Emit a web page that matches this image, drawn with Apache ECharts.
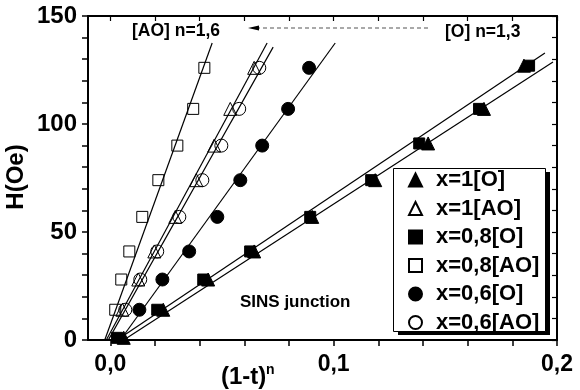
<!DOCTYPE html>
<html><head><meta charset="utf-8">
<script src="https://cdn.jsdelivr.net/npm/echarts@6/dist/echarts.min.js"></script>
<style>html,body{margin:0;padding:0;background:#fff}#c{width:580px;height:390px}</style>
</head><body><div id="c"></div>
<script>
// ---- data ----
const seriesNames = ['x=1[O]', 'x=1[AO]', 'x=0,8[O]', 'x=0,8[AO]', 'x=0,6[O]', 'x=0,6[AO]'];
const hO   = [1, 14, 28, 41, 57, 74, 91, 107, 127];   // H (Oe) for [O] triangle/square series
const hAO  = [14, 28, 41, 57, 74, 90, 107, 126];      // H (Oe) for the other series
const x1O   = [0.006, 0.0237, 0.0438, 0.0644, 0.0904, 0.1186, 0.1423, 0.1673, 0.1852];
const x08O  = [0.003, 0.0210, 0.0416, 0.0626, 0.0895, 0.1168, 0.1383, 0.1651, 0.1875];
const x1AO  = [0.0054, 0.0125, 0.0197, 0.0291, 0.0385, 0.0465, 0.0537, 0.0644];
const x08AO = [0.0022, 0.0049, 0.0085, 0.0143, 0.0215, 0.0300, 0.0371, 0.0421];
const x06O  = [0.0130, 0.0233, 0.0353, 0.0479, 0.0582, 0.0680, 0.0796, 0.0890];
const x06AO = [0.0067, 0.0134, 0.0210, 0.0309, 0.0412, 0.0497, 0.0577, 0.0667];
// fitted straight lines: [x, H] start and end points
const fit1O   = [[0.006, 0], [0.1982, 128.7]];
const fit08O  = [[0.003, 0], [0.1946, 132.9]];
const fit1AO  = [[-0.0018, 0], [0.0702, 137.5]];
const fit08AO = [[-0.0025, 0], [0.0456, 137.5]];
const fit06O  = [[0.0045, 0], [0.1007, 137.5]];
const fit06AO = [[-0.0009, 0], [0.0729, 135.6]];
const xTicks = [0, 0.02, 0.04, 0.06, 0.08, 0.1, 0.12, 0.14, 0.16, 0.18, 0.2];
const xTickLabels = [0, 0.1, 0.2];
const yTicks = [0, 10, 20, 30, 40, 50, 60, 70, 80, 90, 100, 110, 120, 130, 140, 150];
const yTickLabels = [0, 50, 100, 150];

const FONT = 'Liberation Sans, Arial, sans-serif';
const pair = (xs, hs) => xs.map((x, i) => [x, hs[i]]);
const filled = {color: '#000', borderColor: '#000', borderWidth: 1, opacity: 1};
const hollow = {color: 'rgba(255,255,255,0)', borderColor: '#000', borderWidth: 1, opacity: 1};
function sc(name, data, symbol, size, style) {
  return {name, type: 'scatter', data, symbol, symbolSize: size, itemStyle: style, z: 5, emphasis: {disabled: true}};
}
function fl(data) {
  return {type: 'line', data, showSymbol: false, symbol: 'none', lineStyle: {color: '#000', width: 1.2}, z: 3, silent: true};
}
const fmt = v => v.toFixed(1).replace('.', ',');

const chart = echarts.init(document.getElementById('c'), null, {renderer: 'canvas'});
chart.setOption({
  animation: false,
  backgroundColor: '#fff',
  grid: {left: 88, right: 23, top: 16, bottom: 50},
  xAxis: [{
    type: 'value', min: -0.01, max: 0.2, position: 'bottom',
    axisLine: {show: true, onZero: false, lineStyle: {color: '#000', width: 2}},
    axisTick: {show: true, inside: false, length: 6, customValues: xTicks, lineStyle: {color: '#000', width: 1.5}},
    axisLabel: {customValues: xTickLabels, formatter: fmt, color: '#000', fontSize: 23, fontWeight: 'bold', fontFamily: FONT, margin: 13},
    splitLine: {show: false}
  }, {
    type: 'value', min: -0.01, max: 0.2, position: 'top',
    axisLine: {show: true, onZero: false, lineStyle: {color: '#000', width: 2}},
    axisTick: {show: true, inside: true, length: 5, customValues: xTicks, lineStyle: {color: '#000', width: 1.2}},
    axisLabel: {show: false}, splitLine: {show: false}
  }],
  yAxis: [{
    type: 'value', min: 0, max: 150, position: 'left',
    axisLine: {show: true, onZero: false, lineStyle: {color: '#000', width: 2}},
    axisTick: {show: true, inside: false, length: 6, customValues: yTicks, lineStyle: {color: '#000', width: 1.5}},
    axisLabel: {customValues: yTickLabels, color: '#000', fontSize: 24, fontWeight: 'bold', fontFamily: FONT, margin: 11},
    splitLine: {show: false}
  }, {
    type: 'value', min: 0, max: 150, position: 'right',
    axisLine: {show: true, onZero: false, lineStyle: {color: '#000', width: 2}},
    axisTick: {show: true, inside: true, length: 5, customValues: yTicks, lineStyle: {color: '#000', width: 1.2}},
    axisLabel: {show: false}, splitLine: {show: false}
  }],
  legend: {
    data: seriesNames, orient: 'vertical', left: 408, top: 169, padding: 0,
    itemWidth: 13, itemHeight: 13, itemGap: 6.5, selectedMode: false,
    textStyle: {color: '#000', fontSize: 22, fontWeight: 'bold', fontFamily: FONT, lineHeight: 21, padding: [0, 0, 0, 9]},
    z: 10
  },
  graphic: [
    {type: 'rect', shape: {x: 398, y: 172, width: 152, height: 163}, style: {fill: '#000'}, z: 8, silent: true},
    {type: 'rect', shape: {x: 393.5, y: 168.5, width: 152, height: 163}, style: {fill: '#fff', stroke: '#000', lineWidth: 1}, z: 9, silent: true},
    {type: 'text', x: 132, y: 31, style: {text: '[AO] n=1,6', fill: '#000', font: 'bold 17.5px ' + FONT, verticalAlign: 'middle'}, z: 10},
    {type: 'text', x: 445, y: 32, style: {text: '[O] n=1,3', fill: '#000', font: 'bold 17.5px ' + FONT, verticalAlign: 'middle'}, z: 10},
    {type: 'text', x: 240, y: 302, style: {text: 'SINS junction', fill: '#000', font: 'bold 17px ' + FONT, verticalAlign: 'middle'}, z: 10},
    {type: 'line', shape: {x1: 428, y1: 28, x2: 257, y2: 28}, style: {stroke: '#555', lineWidth: 1.2, lineDash: [4, 3]}, z: 10},
    {type: 'polygon', shape: {points: [[248, 28], [259, 25.5], [259, 30.5]]}, style: {fill: '#000'}, z: 10},
    {type: 'text', x: 221, y: 377, style: {text: '(1-t)', fill: '#000', font: 'bold 24px ' + FONT, verticalAlign: 'middle'}, z: 10},
    {type: 'text', x: 266, y: 370, style: {text: 'n', fill: '#000', font: 'bold 14px ' + FONT, verticalAlign: 'middle'}, z: 10},
    {type: 'text', x: 16, y: 177, rotation: Math.PI / 2, style: {text: 'H(Oe)', fill: '#000', font: 'bold 24px ' + FONT, align: 'center', verticalAlign: 'middle'}, z: 10}
  ],
  series: [
    fl(fit1O), fl(fit08O), fl(fit1AO), fl(fit08AO), fl(fit06O), fl(fit06AO),
    sc(seriesNames[0], pair(x1O, hO), 'triangle', 13, filled),
    sc(seriesNames[1], pair(x1AO, hAO), 'triangle', 13, hollow),
    sc(seriesNames[2], pair(x08O, hO), 'rect', 11, filled),
    sc(seriesNames[3], pair(x08AO, hAO), 'rect', 11, hollow),
    sc(seriesNames[4], pair(x06O, hAO), 'circle', 13, filled),
    sc(seriesNames[5], pair(x06AO, hAO), 'circle', 13, hollow)
  ]
});
</script></body></html>
